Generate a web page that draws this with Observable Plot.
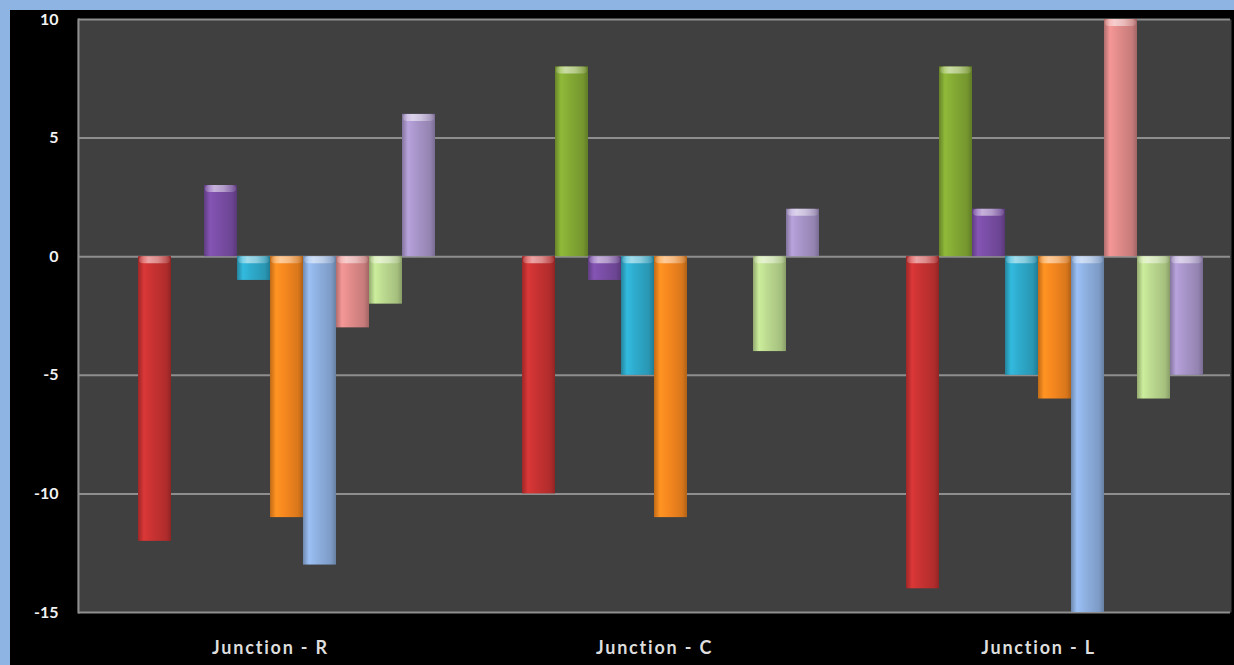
<!DOCTYPE html>
<html>
<head>
<meta charset="utf-8">
<script src="https://cdn.jsdelivr.net/npm/d3@7"></script>
<script src="https://cdn.jsdelivr.net/npm/@observablehq/plot@0.6"></script>
<style>
  html, body { margin: 0; padding: 0; }
  body { background: #8db4e2; width: 1234px; height: 665px; overflow: hidden; }
  #panel { position: absolute; left: 10px; top: 10px; width: 1224px; height: 655px; background: #000; overflow: hidden; }
  #panel svg { display: block; }
  g[aria-label="bars"] { filter: drop-shadow(2px 3px 3px rgba(0,0,0,0.55)); }
  g[aria-label="fx-axis tick label"] text { letter-spacing: 1.8px; }
</style>
</head>
<body>
<div id="panel"></div>
<script>
// Junction groups along the bottom
const groups = ["Junction - R", "Junction - C", "Junction - L"];

// Ten series per junction (the first one is empty everywhere)
const series = ["Series 1", "Series 2", "Series 3", "Series 4", "Series 5",
                "Series 6", "Series 7", "Series 8", "Series 9", "Series 10"];
const seriesColors = ["#4f81bd", "#c83232", "#84aa34", "#7a4ea6", "#2eaacb",
                      "#f6871f", "#8eb0e0", "#e08b8a", "#bbd98f", "#a895c9"];

// Values per junction, in series order
const valuesR = [0, -12, 0, 3, -1, -11, -13, -3, -2, 6];
const valuesC = [0, -10, 8, -1, -5, -11, 0, 0, -4, 2];
const valuesL = [0, -14, 8, 2, -5, -6, -15, 10, -6, -5];

const yTicks = [-15, -10, -5, 0, 5, 10];

const table = [valuesR, valuesC, valuesL];
const rows = groups.flatMap((g, gi) =>
  series.map((s, si) => ({group: g, series: s, value: table[gi][si]}))
);
const shown = rows.filter(d => d.value !== 0);
const gradientIds = series.map((s, i) => `bar${i}`);

const font = "Lato, 'Open Sans', sans-serif";

const chart = Plot.plot({
  width: 1224,
  height: 655,
  marginLeft: 68,
  marginRight: 4,
  marginTop: 9,
  marginBottom: 53,
  style: {background: "#000", fontFamily: font, overflow: "hidden"},
  fx: {domain: groups, padding: 0, label: null},
  x: {domain: series, paddingInner: 0, paddingOuter: 0.75, axis: null},
  y: {domain: [-15, 10], label: null},
  color: {domain: series, range: gradientIds.map(id => `url(#${id})`)},
  marks: [
    // plot-area fill, widened slightly so neighbouring junction panels join without a seam
    Plot.frame({fill: "#404040", insetLeft: -1, insetRight: -1}),
    Plot.gridY({ticks: yTicks, stroke: "#8e8e8e", strokeOpacity: 1, strokeWidth: 2}),
    Plot.frame({anchor: "left", stroke: "#8e8e8e", strokeWidth: 2, facetAnchor: "left"}),
    Plot.barY(shown, {
      fx: "group", x: "series", y1: 0, y2: "value", fill: "series",
      ariaLabel: "bars"
    }),
    Plot.barY(shown, {
      fx: "group", x: "series",
      y1: d => Math.max(d.value, 0), y2: d => Math.max(d.value, 0),
      insetBottom: -7, insetLeft: 1, insetRight: 1, rx: 4,
      fill: "url(#cap)", ariaLabel: "caps"
    }),
    Plot.axisY({
      ticks: yTicks, tickFormat: d => String(d), tickSize: 0, tickPadding: 20,
      fontSize: 16, fontWeight: "bold", fill: "#f2f2f2", label: null
    }),
    Plot.axisFx({
      anchor: "bottom", tickSize: 0, tickPadding: 29, fontSize: 18,
      fontWeight: "bold", fill: "#dedede", label: null
    })
  ]
});

// Cylinder-like shading for each series, plus the light cap on bar tops
const defs = d3.select(chart).insert("defs", ":first-child");
seriesColors.forEach((c, i) => {
  const base = d3.color(c);
  const g = defs.append("linearGradient").attr("id", gradientIds[i])
    .attr("x1", 0).attr("x2", 1).attr("y1", 0).attr("y2", 0);
  [[0, base.darker(0.7)], [0.18, base.brighter(0.25)], [0.45, base],
   [0.85, base.darker(0.35)], [1, base.darker(0.9)]]
    .forEach(([o, col]) => g.append("stop").attr("offset", o).attr("stop-color", col.formatHex()));
});
const cap = defs.append("linearGradient").attr("id", "cap")
  .attr("x1", 0).attr("x2", 1).attr("y1", 0).attr("y2", 0);
[[0, 0.15], [0.3, 0.55], [0.6, 0.45], [1, 0.1]].forEach(([o, a]) =>
  cap.append("stop").attr("offset", o).attr("stop-color", "#fff").attr("stop-opacity", a));

document.getElementById("panel").appendChild(chart);
</script>
</body>
</html>
